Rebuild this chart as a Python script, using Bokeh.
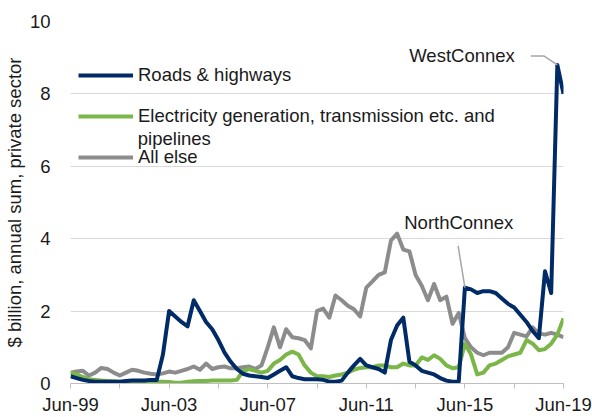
from bokeh.plotting import figure
from bokeh.models import FixedTicker, Legend, LegendItem, Label, Range1d
from bokeh.embed import file_html
from bokeh.resources import INLINE

# Quarterly, Jun-99 .. Jun-19 (81 quarters); x = quarter index
quarters = list(range(81))
tick_positions = [0, 16, 32, 48, 64, 80]
tick_labels = ["Jun-99", "Jun-03", "Jun-07", "Jun-11", "Jun-15", "Jun-19"]
minor_positions = [8, 24, 40, 56, 72]
y_ticks = [0, 2, 4, 6, 8, 10]

roads = [0.2, 0.15, 0.1, 0.07, 0.05, 0.05, 0.05, 0.05, 0.05, 0.07, 0.08, 0.08, 0.08, 0.1, 0.1,
         0.8, 2.0, 1.85, 1.7, 1.58, 2.3, 2.0, 1.7, 1.5, 1.2, 0.85, 0.6, 0.4, 0.27, 0.22,
         0.2, 0.18, 0.15, 0.25, 0.35, 0.45, 0.2, 0.15, 0.12, 0.12, 0.12, 0.1, 0.05, 0.05, 0.08,
         0.3, 0.5, 0.68, 0.5, 0.45, 0.4, 0.3, 1.2, 1.6, 1.82, 0.6, 0.5, 0.35, 0.3, 0.25,
         0.15, 0.08, 0.05, 0.05, 2.65, 2.6, 2.5, 2.55, 2.55, 2.5, 2.35, 2.2, 2.1, 1.9, 1.7,
         1.45, 1.25, 3.1, 2.5, 8.8, 8.0]
electricity = [0.3, 0.25, 0.18, 0.12, 0.1, 0.08, 0.07, 0.06, 0.05, 0.03, 0.03, 0.03, 0.04, 0.05, 0.05,
               0.05, 0.04, 0.02, 0.02, 0.05, 0.06, 0.07, 0.07, 0.08, 0.08, 0.08, 0.08, 0.1, 0.35, 0.4,
               0.35, 0.3, 0.35, 0.55, 0.65, 0.8, 0.88, 0.8, 0.5, 0.3, 0.2, 0.2, 0.18, 0.22, 0.25,
               0.3, 0.38, 0.43, 0.45, 0.45, 0.5, 0.5, 0.45, 0.45, 0.55, 0.5, 0.5, 0.72, 0.65, 0.78,
               0.68, 0.5, 0.42, 0.45, 1.1, 0.8, 0.25, 0.3, 0.5, 0.55, 0.65, 0.75, 0.8, 0.85, 1.2,
               1.1, 0.92, 0.95, 1.1, 1.35, 1.8]
all_else = [0.3, 0.33, 0.35, 0.22, 0.3, 0.43, 0.4, 0.3, 0.22, 0.3,
            0.38, 0.35, 0.3, 0.27, 0.25, 0.28, 0.33, 0.3, 0.35, 0.4,
            0.47, 0.38, 0.55, 0.4, 0.45, 0.47, 0.42, 0.42, 0.45, 0.47,
            0.4, 0.5, 1.0, 1.55, 1.0, 1.5, 1.28, 1.25, 1.2, 0.97,
            2.0, 2.07, 1.82, 2.43, 2.3, 2.15, 2.05, 1.85, 2.65, 2.82,
            3.0, 3.07, 3.95, 4.14, 3.7, 3.65, 3.0, 2.7, 2.3, 2.75,
            2.3, 2.4, 1.65, 1.95, 1.25, 1.0, 0.85, 0.78, 0.85, 0.85,
            0.85, 1.0, 1.4, 1.35, 1.3, 1.55, 1.38, 1.35, 1.4, 1.35, 1.28]

series_names = ["Roads & highways", "Electricity generation, transmission etc. and", "All else"]
series_colors = ["#002B66", "#7AB648", "#8C8C8C"]

FONT = "Liberation Sans"
FS = "18.5px"
TXT = "#1A1A1A"

p = figure(width=592, height=417, output_backend="svg", toolbar_location=None,
           x_range=Range1d(0, 80), y_range=Range1d(0, 10),
           min_border_left=62, min_border_right=29, min_border_top=21, min_border_bottom=34)
p.outline_line_color = None
p.background_fill_color = "white"

# axes
p.xaxis.ticker = FixedTicker(ticks=tick_positions, minor_ticks=minor_positions)
p.xaxis.major_label_overrides = dict(zip(tick_positions, tick_labels))
p.xaxis.axis_line_color = "#BFBFBF"
p.xaxis.major_tick_line_color = "#BFBFBF"
p.xaxis.minor_tick_line_color = "#BFBFBF"
p.xaxis.major_tick_out = 5
p.xaxis.major_tick_in = 0
p.xaxis.minor_tick_out = 5
p.xaxis.minor_tick_in = 0
p.xaxis.major_label_standoff = 5
p.xaxis.major_label_text_font = FONT
p.xaxis.major_label_text_font_size = FS
p.xaxis.major_label_text_color = TXT

p.yaxis.ticker = FixedTicker(ticks=y_ticks, minor_ticks=[])
p.yaxis.axis_line_color = None
p.yaxis.major_tick_line_color = None
p.yaxis.minor_tick_line_color = None
p.yaxis.major_label_standoff = 14
p.yaxis.major_label_text_font = FONT
p.yaxis.major_label_text_font_size = FS
p.yaxis.major_label_text_color = TXT
p.yaxis.axis_label = "$ billion, annual sum, private sector"
p.yaxis.axis_label_text_font = FONT
p.yaxis.axis_label_text_font_size = FS
p.yaxis.axis_label_text_font_style = "normal"
p.yaxis.axis_label_text_color = TXT
p.yaxis.axis_label_standoff = 2

p.xgrid.grid_line_color = None
p.ygrid.grid_line_color = "#D9D9D9"
p.ygrid.grid_line_width = 1

r_else = p.line(quarters, all_else, line_color=series_colors[2], line_width=4, line_join="round")
r_elec = p.line(quarters, electricity, line_color=series_colors[1], line_width=4, line_join="round")
r_road = p.line(quarters, roads, line_color=series_colors[0], line_width=4, line_join="round")

legend = Legend(items=[LegendItem(label=series_names[0], renderers=[r_road]),
                       LegendItem(label=series_names[1], renderers=[r_elec]),
                       LegendItem(label=series_names[2], renderers=[r_else])],
                location=(8, 215), orientation="vertical",
                glyph_width=55, glyph_height=20, label_height=22, label_standoff=5,
                spacing=19, padding=0, margin=0,
                border_line_color=None, background_fill_alpha=0,
                label_text_font=FONT, label_text_font_size=FS, label_text_color=TXT)
p.add_layout(legend)

p.add_layout(Label(x=10.92, y=6.78, text="pipelines", text_align="left", text_baseline="middle",
                   text_font=FONT, text_font_size=FS, text_color=TXT))

# annotations with leader lines anchored on data points
wi = 79
wx, wy = quarters[wi], roads[wi]
p.line([wx, wx - 2.2, wx - 4.3], [wy, wy + 0.25, wy + 0.25], line_color="#A6A6A6", line_width=1.5)
p.add_layout(Label(x=wx - 6.9, y=wy + 0.25, text="WestConnex", text_align="right", text_baseline="middle",
                   text_font=FONT, text_font_size=FS, text_color=TXT))

ni = 64
nx, ny = quarters[ni], roads[ni]
p.line([nx, nx - 1.1], [ny, ny + 1.15], line_color="#A6A6A6", line_width=1.5)
p.add_layout(Label(x=nx - 1.0, y=ny + 1.8, text="NorthConnex", text_align="center", text_baseline="middle",
                   text_font=FONT, text_font_size=FS, text_color=TXT))

open("out.html", "w").write(file_html(p, INLINE))
